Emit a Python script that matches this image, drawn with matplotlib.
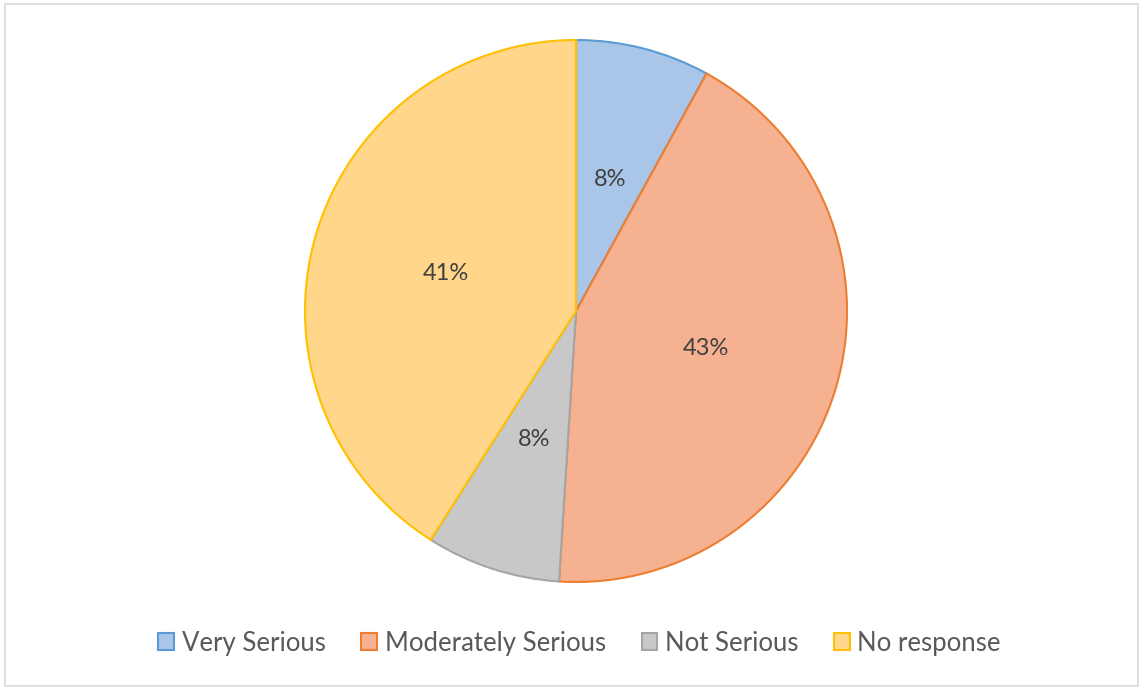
import matplotlib.pyplot as plt
from matplotlib.patches import Rectangle

labels = ['Very Serious', 'Moderately Serious', 'Not Serious', 'No response']
values = [8, 43, 8, 41]
fills = ['#A9C5E8', '#F6B191', '#C8C8C8', '#FFD68A']
edges = ['#5B9BD5', '#ED7D31', '#A5A5A5', '#FFC000']

fig = plt.figure(figsize=(11.41, 6.87), dpi=100)
plt.rcParams['font.family'] = ['Lato', 'DejaVu Sans']

# light frame round the chart area
fig.patches.append(Rectangle((5 / 1141, 1 / 687), 1133 / 1141, 682 / 687,
                             transform=fig.transFigure, fill=False,
                             edgecolor='#D9D9D9', linewidth=1.2))

ax = fig.add_axes([(576 - 271) / 1141, (687 - 582) / 687, 542 / 1141, 542 / 687])
wedges, texts, autotexts = ax.pie(values, colors=fills, startangle=90, counterclock=False,
                                  autopct='%1.0f%%', pctdistance=0.5, radius=1,
                                  wedgeprops=dict(linewidth=1.5))
for w, ec in zip(wedges, edges):
    w.set_edgecolor(ec)
for t in autotexts:
    t.set_fontsize(17)
    t.set_color('#404040')
ax.set_xlim(-1, 1)
ax.set_ylim(-1, 1)
ax.set_aspect('equal')

fig.legend(wedges, labels, loc='center', bbox_to_anchor=(0.508, 0.064), ncol=4,
           frameon=False, fontsize=18.5, labelcolor='#595959',
           handlelength=0.6, handleheight=0.6, handletextpad=0.3, columnspacing=1.4)

fig.savefig('out.png', dpi=100)
